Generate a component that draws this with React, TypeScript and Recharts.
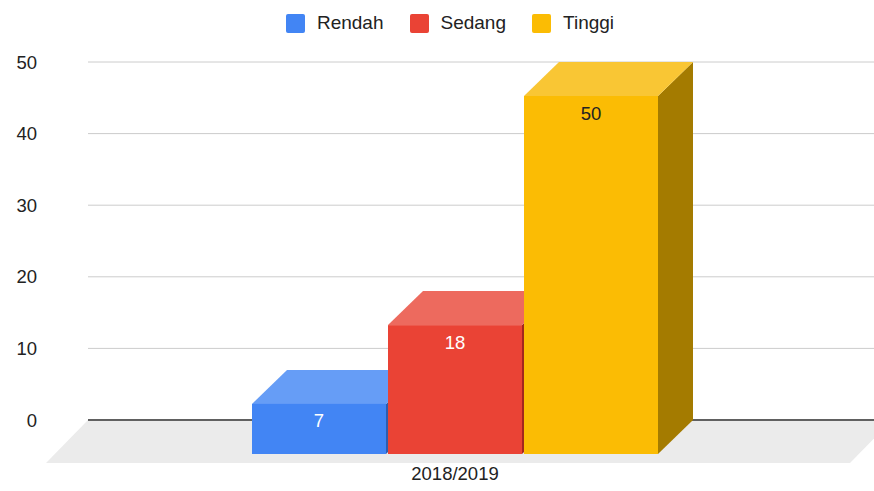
import React from 'react';
import { BarChart, Bar, XAxis, YAxis, CartesianGrid, Legend, ReferenceLine, LabelList } from 'recharts';

const categories = ['2018/2019'];
const seriesNames = ['Rendah', 'Sedang', 'Tinggi'];
const rendahValues = [7];
const sedangValues = [18];
const tinggiValues = [50];
const yTicks = [0, 10, 20, 30, 40, 50];

const data = categories.map((c, i) => ({
  name: c,
  Rendah: rendahValues[i],
  Sedang: sedangValues[i],
  Tinggi: tinggiValues[i],
}));

const FONT = '"Liberation Sans", Arial, sans-serif';
const DX = 35;
const DY = 34;
const FLOOR = 42;
const LEGEND_H = 30;

const palette: Record<string, { front: string; top: string; side: string; label: string }> = {
  Rendah: { front: '#4285F4', top: '#669DF6', side: '#2F5DAE', label: '#FFFFFF' },
  Sedang: { front: '#EA4335', top: '#ED6A5E', side: '#A3271E', label: '#FFFFFF' },
  Tinggi: { front: '#FBBC04', top: '#F9C634', side: '#A47B00', label: '#222222' },
};

const makeShape = (key: string) => (props: any) => {
  const { x, y, width, height } = props;
  const c = palette[key];
  if (width == null || height == null) return null;
  const x2 = x + width;
  const yb = y + height;
  return (
    <g>
      <polygon points={`${x2},${y} ${x2},${yb} ${x2 - DX},${yb + DY} ${x2 - DX},${y + DY}`} fill={c.side} />
      <polygon points={`${x},${y} ${x2},${y} ${x2 - DX},${y + DY} ${x - DX},${y + DY}`} fill={c.top} />
      <rect x={x - DX} y={y + DY} width={width} height={height} fill={c.front} />
    </g>
  );
};

const makeLabel = (key: string) => (props: any) => {
  const { x, y, width, value } = props;
  return (
    <text
      x={x - DX + width / 2}
      y={y + DY + 17}
      dy="0.355em"
      textAnchor="middle"
      fill={palette[key].label}
      fontSize={18.5}
      fontFamily={FONT}
    >
      {value}
    </text>
  );
};

const FloorShape = (props: any) => {
  const { x1, y1, x2 } = props;
  if (x1 == null) return null;
  return (
    <g>
      <polygon
        points={`${x1},${y1} ${x2},${y1} ${x2 - FLOOR},${y1 + FLOOR + 1} ${x1 - FLOOR},${y1 + FLOOR + 1}`}
        fill="#EBEBEB"
      />
      <line x1={x1} y1={y1} x2={x2} y2={y1} stroke="#333333" strokeWidth={1.5} />
    </g>
  );
};

const XTick = (props: any) => {
  const { x, y, payload } = props;
  return (
    <text x={x - DX} y={y} dy={60} textAnchor="middle" fill="#222222" fontSize={18.5} fontFamily={FONT}>
      {payload.value}
    </text>
  );
};

const LegendContent = () => (
  <div style={{ display: 'flex', justifyContent: 'center', alignItems: 'center', fontFamily: FONT, fontSize: 19, color: '#222222', height: LEGEND_H }}>
    {seriesNames.map((n, i) => (
      <div key={n} style={{ display: 'flex', alignItems: 'center', marginLeft: i === 0 ? 0 : 26 }}>
        <div style={{ width: 19, height: 19, borderRadius: 2, background: palette[n].front, marginRight: 12 }} />
        <span>{n}</span>
      </div>
    ))}
  </div>
);

export default function App() {
  return (
    <div style={{ position: 'fixed', left: 0, top: 0, width: 874, height: 491, overflow: 'hidden', background: '#fff' }}>
      <BarChart
        width={900}
        height={491}
        data={data}
        margin={{ top: 62 - LEGEND_H, right: 8, bottom: 41, left: 0 }}
        barSize={134}
        barGap={2}
      >
        <CartesianGrid vertical={false} stroke="#CCCCCC" />
        <ReferenceLine y={0} shape={FloorShape} zIndex={-50} />
        <XAxis dataKey="name" axisLine={false} tickLine={false} tickSize={0} tickMargin={0} height={30} tick={XTick} />
        <YAxis
          domain={[0, 50]}
          ticks={yTicks}
          width={88}
          axisLine={false}
          tickLine={false}
          tickSize={0}
          tickMargin={51}
          tick={{ fill: '#222222', fontSize: 18.5, fontFamily: FONT }}
        />
        <Legend
          layout="vertical"
          align="center"
          verticalAlign="top"
          wrapperStyle={{ top: 8, left: 0, width: 900 }}
          content={LegendContent}
        />
        {seriesNames.map((n) => (
          <Bar key={n} dataKey={n} isAnimationActive={false} shape={makeShape(n)}>
            <LabelList dataKey={n} content={makeLabel(n)} />
          </Bar>
        ))}
      </BarChart>
    </div>
  );
}
